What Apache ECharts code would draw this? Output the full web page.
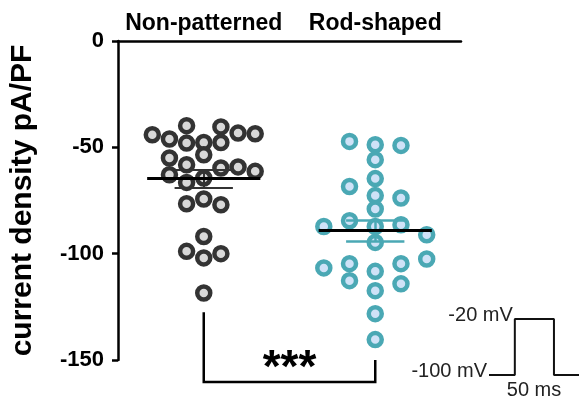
<!DOCTYPE html>
<html>
<head>
<meta charset="utf-8">
<script src="https://cdn.jsdelivr.net/npm/echarts@6/dist/echarts.min.js"></script>
<style>
  html, body { margin: 0; padding: 0; background: #fff; }
  #chart { width: 579px; height: 401px; }
</style>
</head>
<body>
<div id="chart"></div>
<script>
const categories = ['Non-patterned', 'Rod-shaped']

// current density pA/PF, one value per cell, with horizontal jitter offset (category units)
const nonPatternedValues = [-44.1, -46.1, -39.8, -48.0, -47.7, -40.4, -47.7, -43.3, -43.6, -55.0, -53.5, -58.2, -62.9,
  -59.7, -59.2, -61.3, -66.5, -64.4, -76.5, -74.3, -77.0, -91.9, -98.9, -102.0, -100.0, -118.5]
const nonPatternedOffsets = [-0.3, -0.2, -0.1, -0.1, 0, 0.1, 0.1, 0.2, 0.3, -0.2, 0, -0.1, -0.2,
  0.1, 0.2, 0.3, -0.1, 0, -0.1, 0, 0.1, 0, -0.1, 0, 0.1, 0]
const rodShapedValues = [-47.2, -48.8, -49.1, -55.8, -64.7, -68.4, -72.7, -73.8, -79.0, -87.2, -84.5, -87.2, -86.4,
  -91.1, -94.7, -106.7, -104.7, -112.7, -108.3, -104.7, -114.2, -102.5, -117.4, -128.2, -140.4]
const rodShapedOffsets = [-0.15, 0, 0.15, 0, 0, -0.15, 0, 0.15, 0, -0.3, -0.15, 0, 0.15,
  0.3, 0, -0.3, -0.15, -0.15, 0, 0.15, 0.15, 0.3, 0, 0, 0]

// stimulus protocol inset
const pulseTime = [0, 33, 33, 83, 83, 115]
const pulseVoltage = [-100, -100, -20, -20, -100, -100]
const pulseLabels = ['-100 mV', '', '-20 mV', '', '', '']

const font = 'Liberation Sans, Arial, Helvetica, sans-serif'

const mean = function (arr) {
  return arr.reduce((a, b) => a + b, 0) / arr.length
}
const sem = function (arr) {
  let m = mean(arr)
  let v = arr.reduce((a, b) => a + (b - m) * (b - m), 0) / (arr.length - 1)
  return Math.sqrt(v / arr.length)
}

const points = function (values, offsets, center) {
  return values.map((v, i) => [center + offsets[i], v])
}

const summaryLines = function (values, center) {
  let m = mean(values)
  let s = sem(values)
  return {
    mean: [{coords: [[center - 0.33, m], [center + 0.33, m]]}],
    err: [
      {coords: [[center - 0.17, m + s], [center + 0.17, m + s]]},
      {coords: [[center - 0.17, m - s], [center + 0.17, m - s]]},
      {coords: [[center, m - s], [center, m + s]]}
    ]
  }
}

const left = summaryLines(nonPatternedValues, 0.5)
const right = summaryLines(rodShapedValues, 1.5)

const linesSeries = function (data, color, width) {
  return {
    type: 'lines',
    coordinateSystem: 'cartesian2d',
    xAxisIndex: 1,
    yAxisIndex: 0,
    silent: true,
    z: 10,
    lineStyle: {color: color, width: width, opacity: 1},
    data: data
  }
}

let option = {
  animation: false,
  textStyle: {fontFamily: font},
  grid: [
    {left: 118, right: 118, top: 41, bottom: 41},
    {left: 489, top: 319, width: 90, height: 60}
  ],
  xAxis: [
    {
      type: 'category',
      gridIndex: 0,
      position: 'top',
      data: categories,
      axisLine: {lineStyle: {color: '#000', width: 2.5}},
      axisTick: {inside: true, length: 7, alignWithLabel: true, lineStyle: {width: 2.5, color: '#000'}},
      axisLabel: {interval: 0, hideOverlap: false, color: '#000', fontWeight: 'bold', fontSize: 23, margin: 6, fontFamily: font}
    },
    {type: 'value', gridIndex: 0, min: 0, max: 2, show: false},
    {
      type: 'value',
      gridIndex: 1,
      min: 0,
      max: 115,
      axisLine: {show: false},
      axisTick: {show: false},
      axisLabel: {show: false},
      splitLine: {show: false},
      name: '50 ms',
      nameLocation: 'middle',
      nameGap: 5,
      nameTextStyle: {color: '#222', fontSize: 20, fontFamily: font, verticalAlign: 'top'}
    }
  ],
  yAxis: [
    {
      type: 'value',
      gridIndex: 0,
      min: -150,
      max: 0,
      interval: 50,
      axisLine: {show: true, lineStyle: {color: '#000', width: 2.5}},
      axisTick: {show: true, length: 6, lineStyle: {width: 2.5, color: '#000'}},
      axisLabel: {color: '#000', fontWeight: 'bold', fontSize: 22, margin: 14, fontFamily: font},
      splitLine: {show: false},
      name: 'current density pA/PF',
      nameLocation: 'middle',
      nameRotate: 90,
      nameGap: 80,
      nameTextStyle: {color: '#000', fontWeight: 'bold', fontSize: 30, fontFamily: font}
    },
    {type: 'value', gridIndex: 1, min: -100, max: -20, show: false}
  ],
  series: [
    {
      type: 'scatter',
      xAxisIndex: 1,
      yAxisIndex: 0,
      symbolSize: 13,
      silent: true,
      itemStyle: {color: '#d8d8d8', borderColor: '#333333', borderWidth: 4.5, opacity: 1},
      data: points(nonPatternedValues, nonPatternedOffsets, 0.5)
    },
    {
      type: 'scatter',
      xAxisIndex: 1,
      yAxisIndex: 0,
      symbolSize: 13,
      silent: true,
      itemStyle: {color: '#cfe2f7', borderColor: '#4aa8b4', borderWidth: 4.5, opacity: 1},
      data: points(rodShapedValues, rodShapedOffsets, 1.5)
    },
    linesSeries(left.err, '#333333', 2),
    linesSeries(right.err, '#4aa8b4', 2.5),
    linesSeries(left.mean.concat(right.mean), '#000', 3),
    {
      type: 'line',
      xAxisIndex: 2,
      yAxisIndex: 1,
      silent: true,
      symbol: 'circle',
      symbolSize: 0,
      lineStyle: {color: '#111', width: 2},
      itemStyle: {color: '#111'},
      label: {
        show: true,
        position: 'left',
        distance: 2,
        offset: [0, -4],
        color: '#222',
        fontSize: 20,
        fontFamily: font,
        formatter: p => pulseLabels[p.dataIndex]
      },
      data: pulseTime.map((t, i) => [t, pulseVoltage[i]])
    }
  ]
}

let chart = echarts.init(document.getElementById('chart'))
chart.setOption(option)

// significance bracket
const px = (x, y) => chart.convertToPixel({seriesIndex: 0}, [x, y])
let a = px(0.5, -127.5)
let b = px(0.5, -160.3)
let c = px(1.5, -160.3)
let d = px(1.5, -150)
chart.setOption({
  graphic: [
    {
      type: 'polyline',
      shape: {points: [a, b, c, d]},
      style: {stroke: '#000', lineWidth: 2.5, fill: null},
      silent: true
    },
    {
      type: 'text',
      x: (b[0] + c[0]) / 2,
      y: px(1, -154.3)[1],
      style: {text: '***', fill: '#000', font: 'bold 46px ' + font, align: 'center', verticalAlign: 'middle'},
      silent: true
    }
  ]
})
</script>
</body>
</html>
